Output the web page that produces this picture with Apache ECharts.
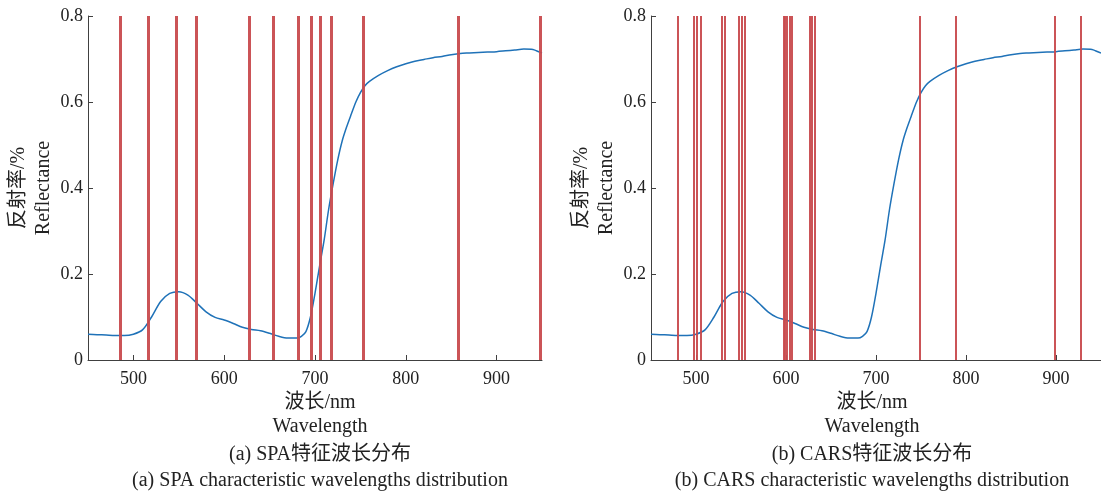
<!DOCTYPE html>
<html><head><meta charset="utf-8">
<script src="https://cdn.jsdelivr.net/npm/echarts@6/dist/echarts.min.js"></script>
<style>html,body{margin:0;padding:0;background:#fff}#c{width:1101px;height:494px}</style>
</head><body><div id="c"></div>
<script>
const wavelengths = [450,460,470,480,490,500,510,520,530,540,550,560,570,580,590,600,610,620,630,640,650,660,670,680,685,690,695,700,705,710,715,720,725,730,735,740,745,750,755,760,770,780,790,800,810,820,830,840,850,860,870,880,890,900,910,920,930,940,945,950];
const reflectance = [0.060,0.059,0.058,0.057,0.057,0.060,0.070,0.100,0.136,0.155,0.159,0.151,0.132,0.112,0.099,0.093,0.085,0.076,0.071,0.068,0.062,0.055,0.051,0.051,0.055,0.066,0.100,0.155,0.218,0.278,0.350,0.410,0.465,0.510,0.543,0.572,0.600,0.622,0.638,0.648,0.662,0.673,0.682,0.689,0.695,0.699,0.703,0.706,0.710,0.713,0.714,0.715,0.716,0.717,0.719,0.721,0.723,0.722,0.718,0.714];
const spaWavelengths = [485,516,547,569,628,654,682,696,706,718,753,858,948];
const carsWavelengths = [480,498,501,505,529,532,548,551,554,597,599,601,604,606,626,629,632,749,789,899,928];
const xTicks = [500,600,700,800,900];
const yTicks = [0,0.2,0.4,0.6,0.8];
const xName = ['波长/nm','Wavelength'];
const yName = '反射率/%\nReflectance';
const titlesA = ['(a) SPA特征波长分布','(a) SPA characteristic wavelengths distribution'];
const titlesB = ['(b) CARS特征波长分布','(b) CARS characteristic wavelengths distribution'];

const FONT = "'Liberation Serif','Times New Roman','Noto Sans CJK SC',serif";
const AXC = '#404040';
const curve = wavelengths.map((w,i)=>[w,reflectance[i]]);

function xAxis(gi){
  return {type:'value',gridIndex:gi,min:450,max:950,
    axisLine:{show:true,onZero:false,lineStyle:{color:AXC,width:1}},
    axisTick:{show:true,inside:true,length:5,customValues:xTicks,lineStyle:{color:AXC}},
    axisLabel:{customValues:xTicks,color:'#222',fontFamily:FONT,fontSize:18,margin:10},
    splitLine:{show:false}};
}
function yAxis(gi){
  return {type:'value',gridIndex:gi,min:0,max:0.8,interval:0.2,
    name:yName,nameLocation:'middle',nameRotate:90,nameGap:30,
    nameTextStyle:{color:'#222',fontFamily:FONT,fontSize:20,lineHeight:25},
    axisLine:{show:true,lineStyle:{color:AXC,width:1}},
    axisTick:{show:true,inside:true,length:5,lineStyle:{color:AXC}},
    axisLabel:{color:'#222',fontFamily:FONT,fontSize:18,margin:5,
      formatter:v=>v===0?'0':v.toFixed(1)},
    splitLine:{show:false}};
}
function series(gi,lines,w){
  return {type:'line',xAxisIndex:gi,yAxisIndex:gi,data:curve,smooth:0.3,showSymbol:false,
    lineStyle:{color:'#1f72b8',width:1.5},z:3,silent:true,
    markLine:{silent:true,symbol:['none','none'],animation:false,label:{show:false},
      lineStyle:{color:'#c84b4e',width:w,type:'solid',opacity:0.95},
      emphasis:{disabled:true},
      data:lines.map(v=>({xAxis:v}))}};
}
function txt(x,y,t){
  return {text:t,left:x,top:y,textAlign:'center',
    textStyle:{fontFamily:FONT,fontSize:20,fontWeight:'normal',color:'#222'}};
}
const chart = echarts.init(document.getElementById('c'),null,{renderer:'canvas'});
chart.setOption({
  animation:false,
  backgroundColor:'#fff',
  grid:[{left:88,top:16,width:454,height:344},{left:651,top:16,width:451,height:344}],
  xAxis:[xAxis(0),xAxis(1)],
  yAxis:[yAxis(0),yAxis(1)],
  title:[
    txt(315,388,xName[0]),txt(315,412,xName[1]),
    txt(315,440,titlesA[0]),txt(315,466,titlesA[1]),
    txt(867,388,xName[0]),txt(867,412,xName[1]),
    txt(867,440,titlesB[0]),txt(867,466,titlesB[1])
  ],
  series:[series(0,spaWavelengths,3),series(1,carsWavelengths,2)]
});
</script></body></html>
